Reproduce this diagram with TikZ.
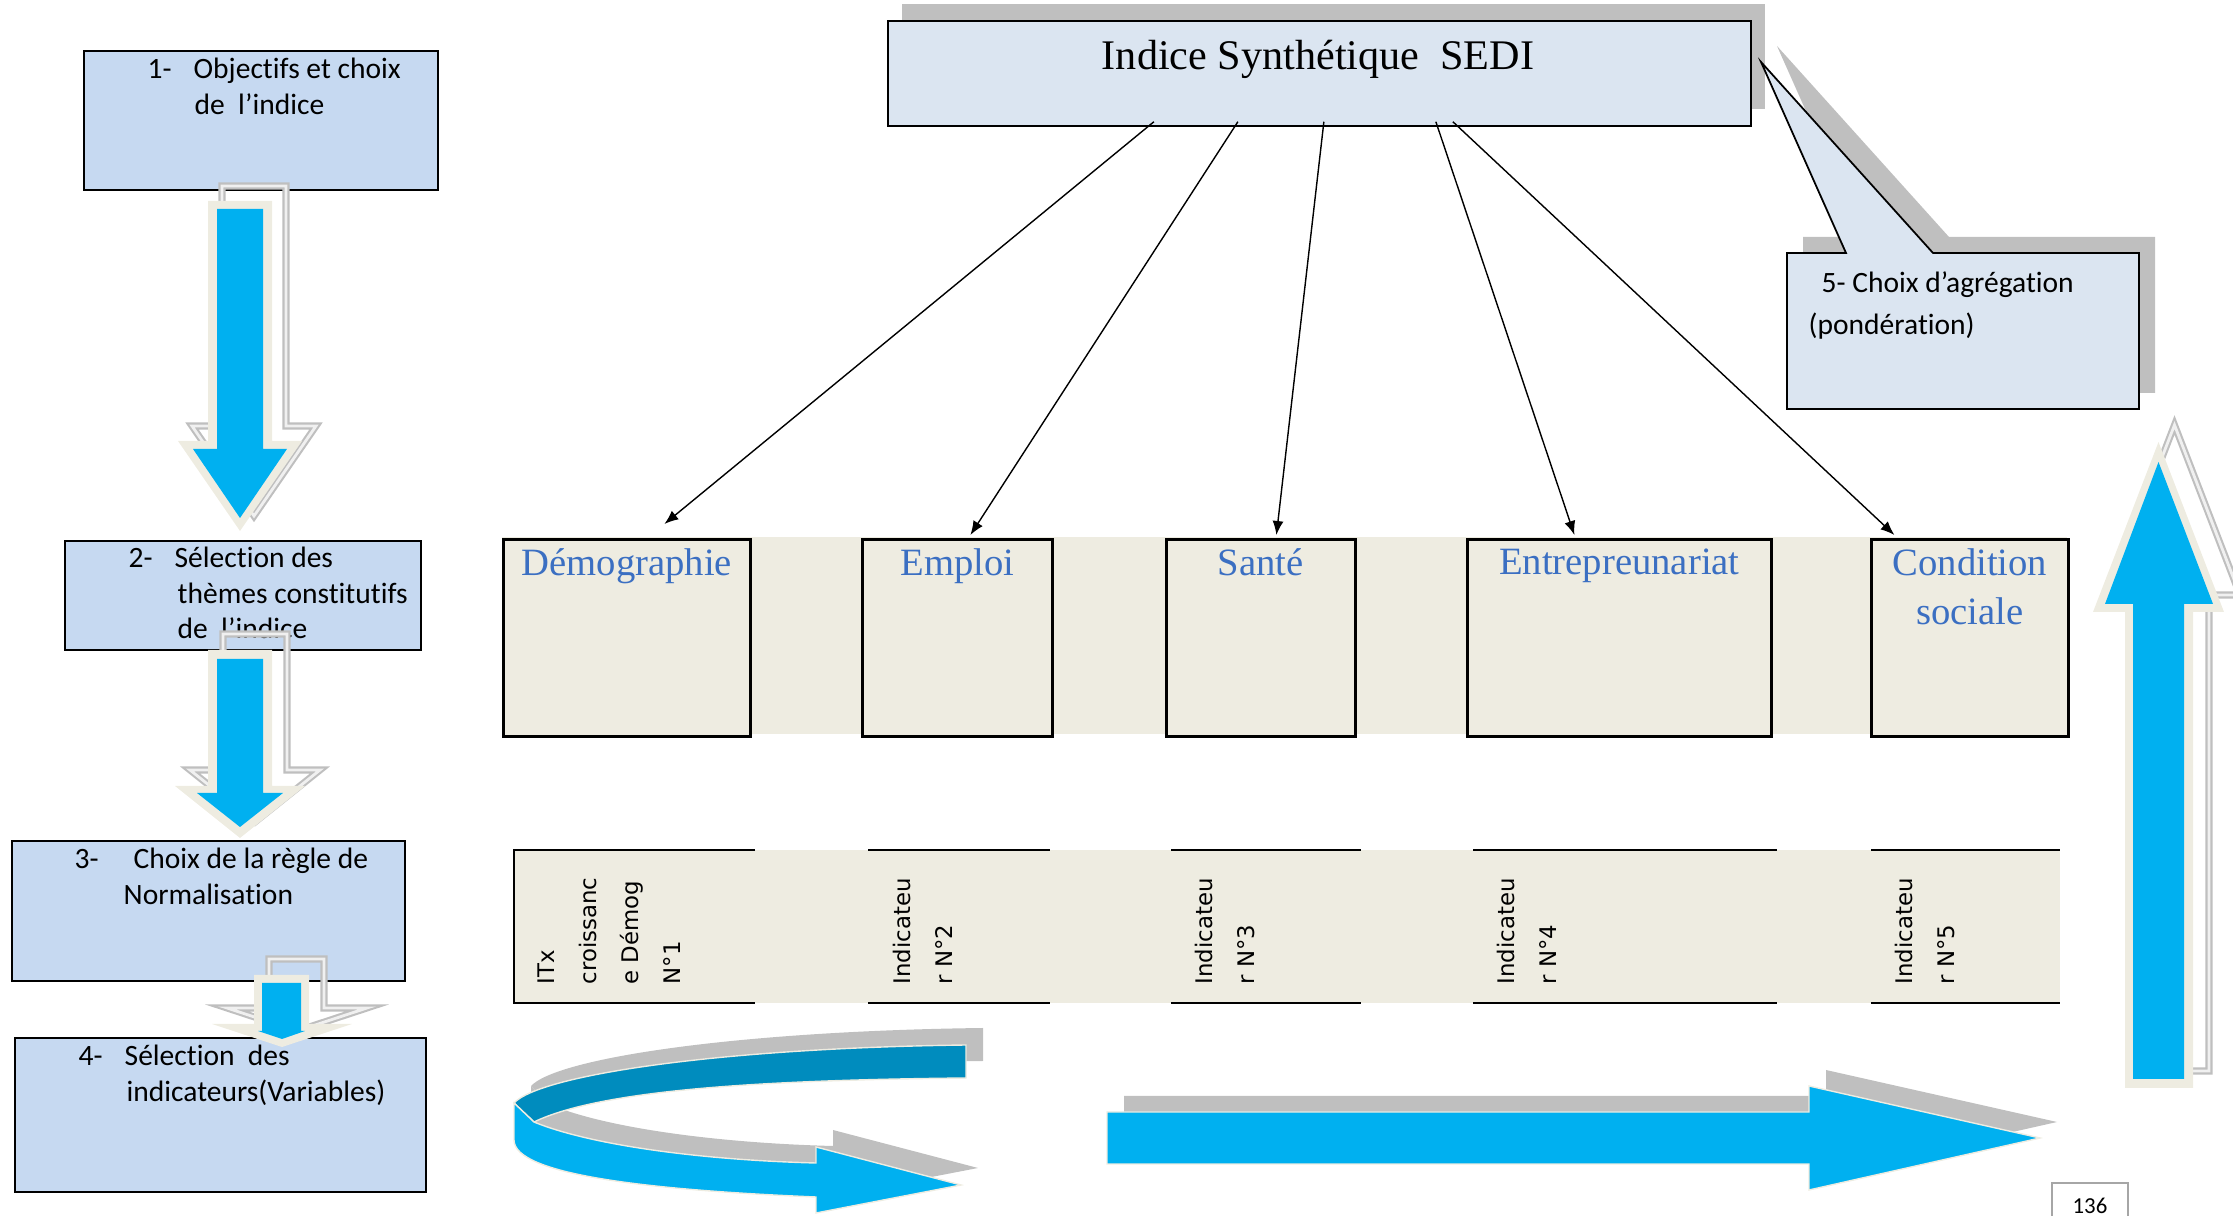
\documentclass[tikz,border=0pt]{standalone}
\usepackage{fontspec}
\setmainfont{Carlito}[Ligatures=NoCommon]
\newfontfamily\timesfont{Liberation Serif}
\newfontfamily\verdanafont{DejaVu Sans}
\usetikzlibrary{arrows.meta,positioning}

\definecolor{stepblue}{HTML}{C6D9F1}
\definecolor{paleblue}{HTML}{DBE5F1}
\definecolor{cream}{HTML}{EEECE1}
\definecolor{skyblue}{HTML}{00B0F0}
\definecolor{deepblue}{HTML}{008CBE}
\definecolor{shade}{HTML}{BFBFBF}
\definecolor{themeblue}{HTML}{3B6FC2}

\begin{document}
\begin{tikzpicture}[
    stepbox/.style={draw, line width=0.7pt, fill=stepblue, anchor=north west, inner sep=0pt},
    steptext/.style={anchor=north west, inner sep=0pt, align=left, font=\fontsize{8.4}{10.2}\selectfont},
    themebox/.style={draw, line width=0.8pt, fill=cream, anchor=north west, minimum height=1.97cm, inner sep=0pt},
    themetext/.style={inner sep=0pt, align=center, text=themeblue, font=\timesfont\fontsize{11}{14}\selectfont},
    indtext/.style={rotate=90, anchor=north west, inner sep=0pt, align=left, font=\verdanafont\fontsize{6.5}{12}\selectfont},
    link/.style={-{Latex[length=1.4mm,width=1.1mm]}, line width=0.4pt},
    rim/.style={fill=cream},
    core/.style={fill=skyblue},
    ghost/.style={draw=shade, line width=0.6pt, double=gray!12, double distance=0.8pt},
    castshade/.style={fill=shade},
    ribbon/.style={draw=cream, line width=0.4pt},
]
    \useasboundingbox (0,0) rectangle (22.33,-12.16);

    % themes
    \fill[cream] (5.02,-5.37) rectangle (20.67,-7.34);
    \node[themebox, minimum width=2.47cm] (demo) at (5.02,-5.38) {};
    \node[themebox, minimum width=1.90cm] (emploi) at (8.61,-5.38) {};
    \node[themebox, minimum width=1.89cm] (sante) at (11.65,-5.38) {};
    \node[themebox, minimum width=3.04cm] (entre) at (14.66,-5.38) {};
    \node[themebox, minimum width=1.97cm] (cond) at (18.70,-5.38) {};
    \node[themetext, below=0.10cm of demo.north] (demotxt) {Démographie};
    \node[themetext, below=0.10cm of emploi.north] (emploitxt) {Emploi};
    \node[themetext, below=0.10cm of sante.north] (santetxt) {Santé};
    \node[themetext, below=0.10cm of entre.north] (entretxt) {Entrepreunariat};
    \node[themetext, below=0.10cm of cond.north] (condtxt) {Condition\\sociale};

    % indicateurs
    \fill[cream] (5.14,-8.50) rectangle (20.60,-10.03);
    \draw[line width=0.8pt] (7.55,-8.50) -- (5.14,-8.50) -- (5.14,-10.03) -- (7.55,-10.03);
    \draw[line width=0.8pt] (8.68,-8.50) -- (10.50,-8.50) (8.68,-10.03) -- (10.50,-10.03);
    \draw[line width=0.8pt] (11.71,-8.50) -- (13.61,-8.50) (11.71,-10.03) -- (13.61,-10.03);
    \draw[line width=0.8pt] (14.73,-8.50) -- (17.77,-8.50) (14.73,-10.03) -- (17.77,-10.03);
    \draw[line width=0.8pt] (18.71,-8.50) -- (20.60,-8.50) (18.71,-10.03) -- (20.60,-10.03);
    \node[indtext] (ind1) at (5.37,-9.85) {ITx\\croissanc\\e Démog\\N°1};
    \node[indtext] (ind2) at (8.92,-9.85) {Indicateu\\r N°2};
    \node[indtext] (ind3) at (11.94,-9.85) {Indicateu\\r N°3};
    \node[indtext] (ind4) at (14.96,-9.85) {Indicateu\\r N°4};
    \node[indtext] (ind5) at (18.94,-9.85) {Indicateu\\r N°5};

    % indice SEDI
    \fill[castshade] (9.02,-0.04) rectangle (17.65,-1.09);
    \node[draw, line width=0.5pt, fill=paleblue, anchor=north west, minimum width=8.63cm, minimum height=1.05cm, inner sep=0pt] (sedi) at (8.87,-0.20) {};
    \node[font=\timesfont\fontsize{12}{14}\selectfont, anchor=base, inner sep=0pt] (seditxt) at (13.18,-0.70) {Indice Synthétique\ \ SEDI};

    % bulle 5
    \fill[castshade] (18.03,-2.37) -- (18.62,-2.37) -- (17.77,-0.46) -- (19.49,-2.37) -- (21.55,-2.37) -- (21.55,-3.93) -- (18.03,-3.93) -- cycle;
    \draw[fill=paleblue, line width=0.5pt] (17.87,-2.53) -- (18.46,-2.53) -- (17.61,-0.62) -- (19.33,-2.53) -- (21.39,-2.53) -- (21.39,-4.09) -- (17.87,-4.09) -- cycle;
    \node[steptext, font=\fontsize{8.4}{12}\selectfont] (aggr) at (18.08,-2.71) {\hspace*{0.13cm}5- Choix d’agrégation\\(pondération)};

    \draw[link] ([xshift=-1.655cm,yshift=0.05cm]sedi.south) -- ([xshift=0.375cm,yshift=0.14cm]demo.north);
    \draw[link] ([xshift=-0.815cm,yshift=0.05cm]sedi.south) -- ([xshift=0.13cm,yshift=0.03cm]emploi.north);
    \draw[link] ([xshift=0.045cm,yshift=0.05cm]sedi.south) -- ([xshift=0.155cm,yshift=0.03cm]sante.north);
    \draw[link] ([xshift=1.165cm,yshift=0.05cm]sedi.south) -- ([xshift=-0.45cm,yshift=0.03cm]entre.north);
    \draw[link] ([xshift=1.335cm,yshift=0.05cm]sedi.south) -- ([xshift=-0.755cm,yshift=0.03cm]cond.north);

    % etapes 1 a 4
    \node[stepbox, minimum width=3.54cm, minimum height=1.39cm] (obj) at (0.83,-0.50) {};
    \node[steptext] (objtxt) at (1.47,-0.57) {\makebox[0.46cm][l]{1-}Objectifs et choix\\\hspace*{0.47cm}de\ \ l’indice};
    \node[stepbox, minimum width=3.56cm, minimum height=1.09cm] (theme) at (0.64,-5.40) {};
    \node[steptext] (themetxt) at (1.28,-5.46) {\makebox[0.46cm][l]{2-}Sélection des\\\hspace*{0.49cm}thèmes constitutifs\\\hspace*{0.49cm}de\ \ l’indice};
    \node[stepbox, minimum width=3.93cm, minimum height=1.40cm] (norm) at (0.11,-8.40) {};
    \node[steptext] (normtxt) at (0.74,-8.47) {\makebox[0.59cm][l]{3-}Choix de la règle de\\\hspace*{0.49cm}Normalisation};
    \node[stepbox, minimum width=4.11cm, minimum height=1.54cm] (var) at (0.14,-10.37) {};
    \node[steptext] (vartxt) at (0.78,-10.44) {\makebox[0.46cm][l]{4-}Sélection\ \ des\\\hspace*{0.48cm}indicateurs(Variables)};

    % fleches descendantes
    \draw[ghost, shift={(0.14,0.15)}] (2.08,-2.01) -- (2.72,-2.01) -- (2.72,-4.41) -- (3.02,-4.41) -- (2.40,-5.31) -- (1.78,-4.41) -- (2.08,-4.41) -- cycle;
    \fill[rim] (2.08,-2.01) -- (2.72,-2.01) -- (2.72,-4.41) -- (3.02,-4.41) -- (2.40,-5.31) -- (1.78,-4.41) -- (2.08,-4.41) -- cycle;
    \fill[core] (2.17,-2.09) -- (2.63,-2.09) -- (2.63,-4.49) -- (2.87,-4.49) -- (2.40,-5.18) -- (1.93,-4.49) -- (2.17,-4.49) -- cycle;

    \draw[ghost, shift={(0.15,0.16)}] (2.08,-6.50) -- (2.72,-6.50) -- (2.72,-7.86) -- (3.05,-7.86) -- (2.40,-8.38) -- (1.75,-7.86) -- (2.08,-7.86) -- cycle;
    \fill[rim] (2.08,-6.50) -- (2.72,-6.50) -- (2.72,-7.86) -- (3.05,-7.86) -- (2.40,-8.38) -- (1.75,-7.86) -- (2.08,-7.86) -- cycle;
    \fill[core] (2.17,-6.59) -- (2.63,-6.59) -- (2.63,-7.93) -- (2.83,-7.93) -- (2.40,-8.27) -- (1.97,-7.93) -- (2.17,-7.93) -- cycle;

    \draw[ghost, shift={(0.15,0.16)}] (2.54,-9.75) -- (3.09,-9.75) -- (3.09,-10.24) -- (3.52,-10.24) -- (2.82,-10.47) -- (2.12,-10.24) -- (2.54,-10.24) -- cycle;
    \fill[rim] (2.54,-9.75) -- (3.09,-9.75) -- (3.09,-10.24) -- (3.52,-10.24) -- (2.82,-10.47) -- (2.12,-10.24) -- (2.54,-10.24) -- cycle;
    \fill[core] (2.62,-9.83) -- (3.01,-9.83) -- (3.01,-10.31) -- (3.05,-10.31) -- (2.82,-10.39) -- (2.58,-10.31) -- (2.62,-10.31) -- cycle;

    % fleche montante
    \draw[ghost, shift={(0.16,0.17)}] (21.25,-10.88) -- (21.93,-10.88) -- (21.93,-6.12) -- (22.24,-6.12) -- (21.585,-4.42) -- (20.93,-6.12) -- (21.25,-6.12) -- cycle;
    \fill[rim] (21.25,-10.88) -- (21.93,-10.88) -- (21.93,-6.12) -- (22.24,-6.12) -- (21.585,-4.42) -- (20.93,-6.12) -- (21.25,-6.12) -- cycle;
    \fill[core] (21.33,-10.79) -- (21.84,-10.79) -- (21.84,-6.04) -- (22.13,-6.04) -- (21.585,-4.62) -- (21.05,-6.04) -- (21.33,-6.04) -- cycle;

    % fleche droite
    \fill[castshade, shift={(0.17,0.16)}] (11.07,-11.12) -- (18.09,-11.12) -- (18.09,-10.86) -- (20.40,-11.38) -- (18.09,-11.90) -- (18.09,-11.64) -- (11.07,-11.64) -- cycle;
    \draw[ribbon, fill=skyblue] (11.07,-11.12) -- (18.09,-11.12) -- (18.09,-10.86) -- (20.40,-11.38) -- (18.09,-11.90) -- (18.09,-11.64) -- (11.07,-11.64) -- cycle;

    % fleche courbe
    \fill[castshade, shift={(0.17,0.17)}] (9.66,-10.45) .. controls (7.20,-10.48) and (5.40,-10.75) .. (5.14,-11.03) -- (5.34,-11.22) .. controls (6.00,-10.90) and (7.60,-10.80) .. (9.66,-10.78) -- cycle;
    \fill[castshade, shift={(0.17,0.17)}] (5.14,-11.03) -- (5.34,-11.22) .. controls (5.90,-11.45) and (7.00,-11.60) .. (8.16,-11.63) -- (8.16,-11.47) -- (9.61,-11.85) -- (8.16,-12.13) -- (8.16,-11.97) .. controls (6.50,-11.90) and (5.14,-11.75) .. (5.14,-11.40) -- cycle;
    \draw[ribbon, fill=deepblue] (9.66,-10.45) .. controls (7.20,-10.48) and (5.40,-10.75) .. (5.14,-11.03) -- (5.34,-11.22) .. controls (6.00,-10.90) and (7.60,-10.80) .. (9.66,-10.78) -- cycle;
    \draw[ribbon, fill=skyblue] (5.14,-11.03) -- (5.34,-11.22) .. controls (5.90,-11.45) and (7.00,-11.60) .. (8.16,-11.63) -- (8.16,-11.47) -- (9.61,-11.85) -- (8.16,-12.13) -- (8.16,-11.97) .. controls (6.50,-11.90) and (5.14,-11.75) .. (5.14,-11.40) -- cycle;

    % numero de page
    \draw[gray!70, line width=0.4pt] (20.52,-12.40) -- (20.52,-11.83) -- (21.28,-11.83) -- (21.28,-12.40);
    \node[font=\fontsize{6.5}{8}\selectfont, anchor=base, inner sep=0pt] (page) at (20.90,-12.14) {136};
\end{tikzpicture}
\end{document}
